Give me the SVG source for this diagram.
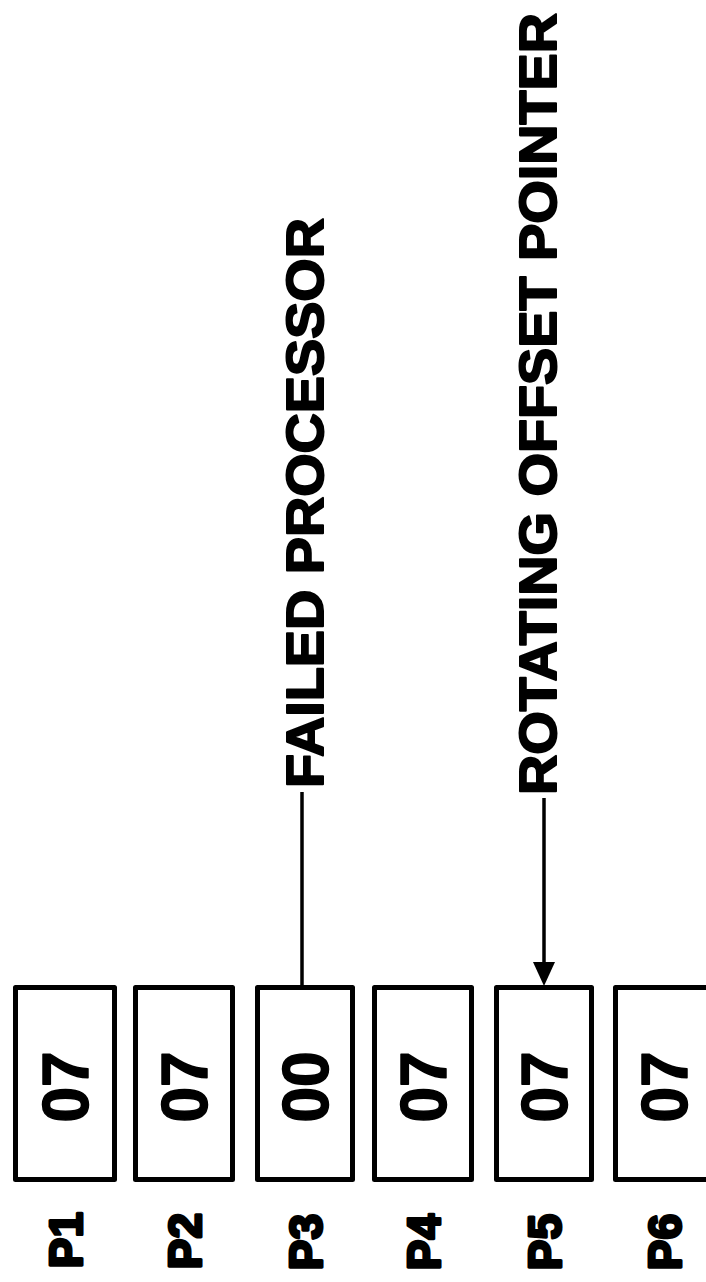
<svg xmlns="http://www.w3.org/2000/svg" width="706" height="1282" viewBox="0 0 706 1282">
  <style>
    .cell { fill: #fff; stroke: #000; stroke-width: 5; stroke-linejoin: round; }
    .val { font-family: "Liberation Sans", Arial, sans-serif; font-weight: bold; font-size: 64px; fill: #000; stroke: #000; stroke-width: 1.5; stroke-linejoin: round; text-anchor: middle; }
    .tag { font-family: "Liberation Sans", Arial, sans-serif; font-weight: bold; font-size: 46px; fill: #000; stroke: #000; stroke-width: 3; stroke-linejoin: round; text-anchor: middle; }
    .note { font-family: "Liberation Sans", Arial, sans-serif; font-weight: bold; font-size: 52px; fill: #000; stroke: #000; stroke-width: 2; stroke-linejoin: round; }
    .wire { stroke: #000; stroke-width: 3.5; fill: none; }
  </style>
  <rect width="706" height="1282" fill="#fff"/>

  <!-- processor cells, each with its offset value and name -->
  <g id="p1">
    <rect class="cell" x="15.5" y="987.5" width="99" height="192"/>
    <text class="val" transform="translate(88,1087) rotate(-90)">07</text>
    <text class="tag" transform="translate(82,1240) rotate(-90)">P1</text>
  </g>
  <g id="p2">
    <rect class="cell" x="135.5" y="987.5" width="97" height="192"/>
    <text class="val" transform="translate(207,1087) rotate(-90)">07</text>
    <text class="tag" transform="translate(201,1241) rotate(-90)">P2</text>
  </g>
  <g id="p3">
    <rect class="cell" x="257.5" y="987.5" width="95" height="192"/>
    <text class="val" transform="translate(328,1087) rotate(-90)">00</text>
    <text class="tag" transform="translate(322,1242) rotate(-90)">P3</text>
  </g>
  <g id="p4">
    <rect class="cell" x="374.5" y="987.5" width="97" height="192"/>
    <text class="val" transform="translate(446,1087) rotate(-90)">07</text>
    <text class="tag" transform="translate(440,1242) rotate(-90)">P4</text>
  </g>
  <g id="p5">
    <rect class="cell" x="496.5" y="987.5" width="95" height="192"/>
    <text class="val" transform="translate(567,1087) rotate(-90)">07</text>
    <text class="tag" transform="translate(561,1242) rotate(-90)">P5</text>
  </g>
  <g id="p6">
    <rect class="cell" x="615.5" y="987.5" width="99" height="192"/>
    <text class="val" transform="translate(687,1087) rotate(-90)">07</text>
    <text class="tag" transform="translate(681,1242) rotate(-90)">P6</text>
  </g>

  <!-- callout labels -->
  <g id="failed-label">
    <text class="note" transform="translate(323,788) rotate(-90)" textLength="570" lengthAdjust="spacingAndGlyphs">FAILED PROCESSOR</text>
  </g>
  <g id="pointer-label">
    <text class="note" transform="translate(556,795) rotate(-90)" textLength="782" lengthAdjust="spacingAndGlyphs">ROTATING OFFSET POINTER</text>
  </g>

  <!-- connectors -->
  <g id="connectors">
    <line class="wire" x1="302" y1="792" x2="302" y2="986"/>
    <line class="wire" x1="544" y1="798" x2="544" y2="964"/>
    <polygon points="533,962 555,962 544,986" fill="#000"/>
  </g>
</svg>
